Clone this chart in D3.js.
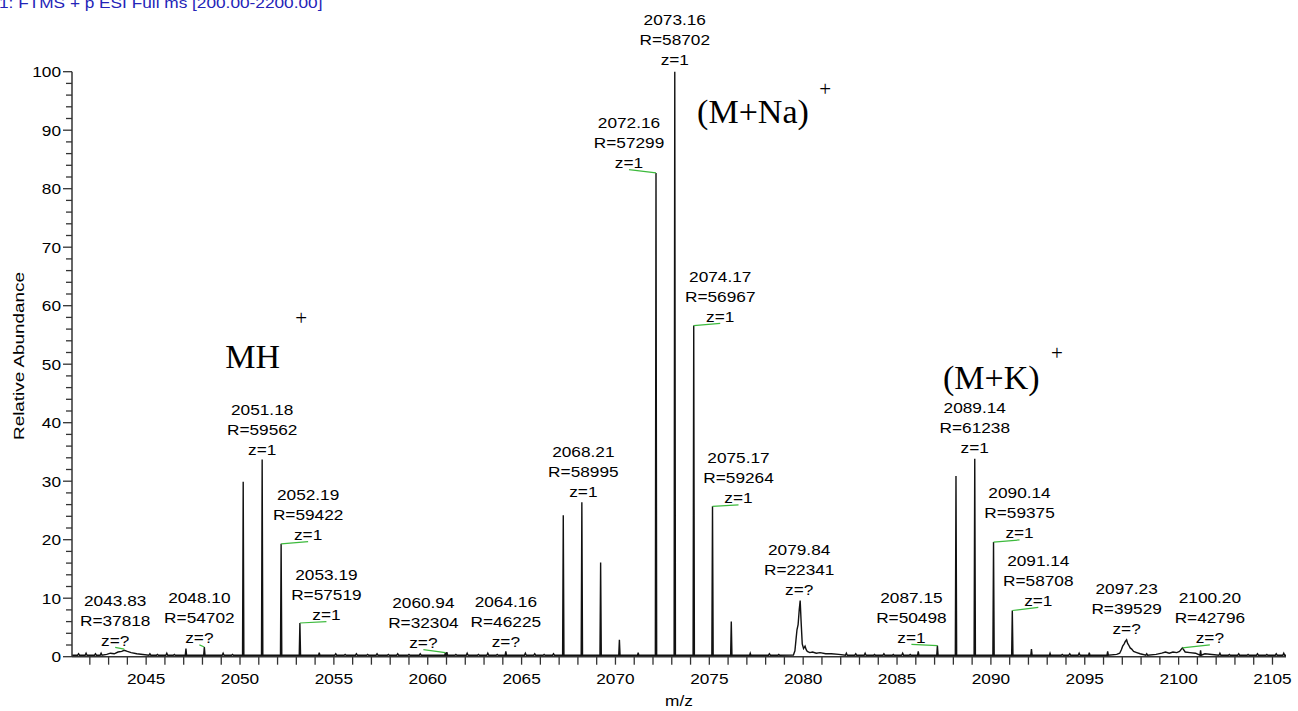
<!DOCTYPE html>
<html><head><meta charset="utf-8">
<script src="https://cdn.jsdelivr.net/npm/d3@7"></script>
<style>
body{margin:0;background:#fff;}
svg{display:block;}
text{font-family:Arial,"Liberation Sans",sans-serif;}
.serif{font-family:"Times New Roman","Liberation Serif",serif;}
</style></head><body>
<svg id="chart" width="1298" height="711"></svg>
<script>
// ---------------- DATA ----------------
const title = "1: FTMS + p ESI Full ms [200.00-2200.00]";
const xLabel = "m/z";
const yLabel = "Relative Abundance";
const xTickValues = d3.range(2042, 2106, 1);
const xTickLabels = [2045, 2050, 2055, 2060, 2065, 2070, 2075, 2080, 2085, 2090, 2095, 2100, 2105];
const yTickLabels = [0, 10, 20, 30, 40, 50, 60, 70, 80, 90, 100];
const yMinorTicks = d3.range(0, 101, 2);

// sharp centroid peaks (m/z, relative abundance)
const peakMz  = [2047.12, 2048.10, 2050.17, 2051.18, 2052.19, 2053.19, 2054.22, 2060.94, 2061.02, 2064.16,
                 2067.22, 2068.21, 2069.21, 2070.21, 2071.21, 2072.16, 2073.16, 2074.17, 2075.17, 2076.17,
                 2077.18, 2086.13, 2087.15, 2088.14, 2089.14, 2090.14, 2091.14, 2092.16, 2093.15, 2095.24,
                 2096.22, 2101.17];
const peakInt = [1.4, 1.66, 29.9, 33.7, 19.3, 5.76, 0.7, 0.7, 0.8, 0.9,
                 24.2, 26.4, 16.1, 2.9, 0.7, 82.7, 100, 56.6, 25.7, 6.0,
                 0.6, 0.9, 1.9, 30.9, 33.85, 19.6, 7.9, 1.3, 0.6, 0.7,
                 0.9, 1.1];

// broad profile features
const profile2043 = [[2042.9,0.4],[2043.1,0.6],[2043.3,0.5],[2043.5,0.8],[2043.7,0.9],[2043.83,1.1],[2044.0,0.9],[2044.2,0.7],[2044.5,0.5]];
const profile2080 = [[2079.48,0.3],[2079.56,1.0],[2079.62,3.0],[2079.67,4.6],[2079.73,5.5],[2079.79,8.0],[2079.84,9.6],[2079.89,6.0],
                     [2079.95,2.2],[2080.02,1.4],[2080.10,1.8],[2080.16,1.2],[2080.22,0.9],[2080.35,0.7],[2080.5,0.8],[2080.7,0.6],
                     [2080.9,0.7],[2081.2,0.5],[2081.5,0.5],[2081.9,0.4]];
const profile2097 = [[2096.7,0.4],[2096.86,0.6],[2096.95,1.2],[2097.02,1.8],[2097.10,2.2],[2097.16,2.6],[2097.23,2.9],[2097.28,2.3],
                     [2097.34,2.0],[2097.42,1.5],[2097.50,1.3],[2097.6,0.9],[2097.77,0.7],[2097.95,0.5]];
const profile2100 = [[2098.8,0.4],[2099.1,0.6],[2099.3,0.8],[2099.5,0.6],[2099.7,0.8],[2099.9,0.7],[2100.05,0.9],[2100.2,1.5],
                     [2100.35,0.8],[2100.6,0.7],[2100.9,0.6],[2101.4,0.5]];

// baseline noise spikes
const noiseMz  = [2041.4,2041.8,2042.3,2042.6,2045.2,2045.6,2046.1,2046.5,2049.1,2049.6,2055.1,2055.6,2056.2,2056.8,2057.3,2057.9,
                  2058.4,2059.0,2059.6,2061.5,2062.1,2062.7,2063.2,2063.7,2065.2,2065.7,2066.2,2066.7,2078.2,2078.7,2082.3,2082.8,
                  2083.3,2083.8,2084.3,2084.8,2085.3,2085.7,2093.8,2094.2,2094.7,2098.3,2102.2,2102.7,2103.2,2103.7,2104.2,2104.7,
                  2105.2,2105.6];
const noiseInt = [0.5,0.6,0.5,0.6,0.5,0.4,0.6,0.4,0.6,0.4,0.5,0.4,0.5,0.4,0.5,0.4,
                  0.5,0.4,0.5,0.4,0.6,0.4,0.6,0.4,0.6,0.5,0.4,0.5,0.5,0.4,0.6,0.5,
                  0.6,0.4,0.5,0.4,0.6,0.4,0.4,0.5,0.6,0.5,0.6,0.4,0.5,0.4,0.5,0.4,
                  0.5,0.6];
const baseLevel = 0.25;

// peak annotations
const labelPos = [2043.83, 2048.10, 2051.18, 2052.19, 2053.19, 2060.94, 2064.16, 2068.21, 2072.16, 2073.16,
                  2074.17, 2075.17, 2079.84, 2087.15, 2089.14, 2090.14, 2091.14, 2097.23, 2100.20];
const labelInt = [1.3, 1.66, 33.7, 19.3, 5.76, 0.7, 0.9, 26.4, 82.7, 100,
                  56.6, 25.7, 9.6, 1.9, 33.85, 19.6, 7.9, 2.9, 1.5];
const labelMz  = ["2043.83","2048.10","2051.18","2052.19","2053.19","2060.94","2064.16","2068.21","2072.16","2073.16",
                  "2074.17","2075.17","2079.84","2087.15","2089.14","2090.14","2091.14","2097.23","2100.20"];
const labelR   = ["R=37818","R=54702","R=59562","R=59422","R=57519","R=32304","R=46225","R=58995","R=57299","R=58702",
                  "R=56967","R=59264","R=22341","R=50498","R=61238","R=59375","R=58708","R=39529","R=42796"];
const labelZ   = ["z=?","z=?","z=1","z=1","z=1","z=?","z=?","z=1","z=1","z=1",
                  "z=1","z=1","z=?","z=1","z=1","z=1","z=1","z=?","z=?"];

// ion annotations
const ionNames = ["MH", "(M+Na)", "(M+K)"];
const ionAnchorMz = [2049.21, 2074.35, 2087.45];
const ionAnchorInt = [49.3, 91.3, 45.8];

// ---------------- LAYOUT ----------------
const labelDx = [-9, -5, 0, 27, 26.5, -22, 0, 1.5, -27, 0, 26.5, 26, -1, -26, 0, 26, 26, 0, 27.5];
const labelDy = [-3.4, -3.7, -4.6, -3.8, -3, -4.6, -4.2, -5.6, -4.9, -6.7, -3.9, -3.1, -5.5, -2.9, -5.4, -3.7, -4.8, -5.4, -4.6];
const ionPlusDx = [76, 128, 114];
const ionPlusDy = [-43, -27, -29];
const SX = 1.15;

const svg = d3.select("#chart");
const x = d3.scaleLinear().domain([2041.05, 2105.72]).range([72, 1286]);
const y = d3.scaleLinear().domain([0, 100]).range([656.7, 71.7]);
const axisColor = "#333";

// title
svg.append("text").attr("transform", `translate(-1,8) scale(${SX},1)`)
  .attr("font-size", 15).attr("fill", "#2424b8").text(title);

// build spectrum points
let pts = [[x.domain()[0], baseLevel], [x.domain()[1], baseLevel]];
const hw = 0.035;
peakMz.forEach((m, i) => { pts.push([m - hw, baseLevel], [m, peakInt[i]], [m + hw, baseLevel]); });
noiseMz.forEach((m, i) => { pts.push([m - 0.05, baseLevel], [m, noiseInt[i]], [m + 0.05, baseLevel]); });
[profile2043, profile2080, profile2097, profile2100].forEach(p => p.forEach(d => pts.push(d)));
pts.sort((a, b) => a[0] - b[0]);

svg.append("path").datum(pts)
  .attr("d", d3.line().x(d => x(d[0])).y(d => y(d[1])))
  .attr("fill", "none").attr("stroke", "#111").attr("stroke-width", 1.4).attr("stroke-linejoin", "miter");

// x axis
const gx = svg.append("g").attr("transform", `translate(0,${y(0)})`);
gx.append("line").attr("x1", x.range()[0]).attr("x2", x.range()[1]).attr("stroke", axisColor).attr("stroke-width", 1.6);
gx.selectAll("line.t").data(xTickValues).join("line").attr("class", "t")
  .attr("x1", d => x(d)).attr("x2", d => x(d)).attr("y1", 0).attr("y2", 8)
  .attr("stroke", axisColor).attr("stroke-width", 1.3);
gx.selectAll("text").data(xTickLabels).join("text")
  .attr("transform", d => `translate(${x(d)},27) scale(${SX},1)`)
  .attr("text-anchor", "middle").attr("font-size", 15).attr("fill", "#000").text(d => d);

// y axis
const gy = svg.append("g");
gy.append("line").attr("x1", 72).attr("x2", 72).attr("y1", y(100)).attr("y2", y(0)).attr("stroke", axisColor).attr("stroke-width", 1.5);
gy.selectAll("line.m").data(yMinorTicks).join("line").attr("class", "m")
  .attr("x1", d => d % 10 === 0 ? 63 : 66).attr("x2", 72).attr("y1", d => y(d)).attr("y2", d => y(d))
  .attr("stroke", axisColor).attr("stroke-width", 1.3);
gy.selectAll("text").data(yTickLabels).join("text")
  .attr("transform", d => `translate(61,${y(d) + 5.4}) scale(${SX},1)`)
  .attr("text-anchor", "end").attr("font-size", 15).attr("fill", "#000").text(d => d);

// axis titles
svg.append("text").attr("transform", `translate(${(x.range()[0] + x.range()[1]) / 2},706) scale(${SX},1)`)
  .attr("text-anchor", "middle").attr("font-size", 15).text(xLabel);
svg.append("text").attr("transform", "translate(24,356) rotate(-90)")
  .attr("text-anchor", "middle").attr("font-size", 15)
  .attr("textLength", 168).attr("lengthAdjust", "spacingAndGlyphs").text(yLabel);

// peak labels
labelPos.forEach((m, i) => {
  const px = x(m), py = y(labelInt[i]);
  const cx = px + labelDx[i], zb = py + labelDy[i];
  if (Math.abs(labelDx[i]) > 3) {
    svg.append("line").attr("x1", px).attr("y1", py).attr("x2", cx).attr("y2", zb + 1.6)
      .attr("stroke", "#3dba3d").attr("stroke-width", 1.2);
  }
  [labelMz[i], labelR[i], labelZ[i]].forEach((t, k) => {
    svg.append("text").attr("transform", `translate(${cx},${zb - (2 - k) * 20}) scale(${SX},1)`)
      .attr("text-anchor", "middle").attr("font-size", 15).attr("fill", "#000").text(t);
  });
});

// ion labels
ionNames.forEach((n, i) => {
  const ax = x(ionAnchorMz[i]), ay = y(ionAnchorInt[i]);
  svg.append("text").attr("class", "serif").attr("x", ax).attr("y", ay)
    .attr("font-size", 34).attr("fill", "#000").text(n);
  svg.append("text").attr("class", "serif").attr("x", ax + ionPlusDx[i]).attr("y", ay + ionPlusDy[i])
    .attr("text-anchor", "middle").attr("font-size", 21).attr("fill", "#000").text("+");
});
</script>
</body></html>
